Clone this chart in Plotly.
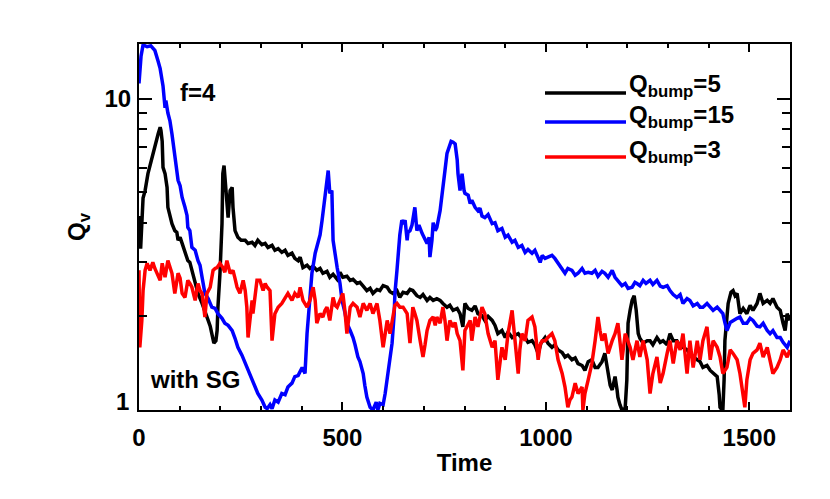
import plotly.graph_objects as go

# ---- data ----
t_black = [0, 4, 10, 15, 22, 27, 32, 39, 47, 52, 54, 57, 59, 64, 69, 71, 76, 81, 88, 93, 96, 101, 106, 113, 120, 125, 130, 138, 145, 155, 162, 170, 175, 179, 184, 189, 192, 194, 199, 204, 206, 209, 211, 216, 219, 224, 229, 231, 236, 243, 251, 261, 268, 278, 285, 292, 302, 310, 317, 327, 334, 342, 351, 359, 366, 376, 383, 391, 396, 403, 413, 420, 428, 437, 445, 452, 462, 469, 477, 487, 494, 501, 511, 519, 526, 536, 543, 551, 560, 568, 575, 585, 592, 600, 610, 617, 624, 634, 641, 649, 659, 666, 673, 683, 691, 698, 708, 715, 723, 732, 740, 747, 757, 764, 772, 782, 789, 796, 801, 809, 818, 826, 833, 843, 850, 858, 868, 875, 882, 892, 900, 907, 917, 924, 932, 941, 949, 956, 966, 973, 981, 988, 998, 1005, 1015, 1022, 1030, 1040, 1047, 1054, 1064, 1072, 1079, 1089, 1096, 1104, 1113, 1121, 1128, 1138, 1145, 1150, 1153, 1158, 1163, 1168, 1170, 1175, 1177, 1182, 1187, 1192, 1195, 1199, 1202, 1207, 1212, 1217, 1222, 1227, 1231, 1239, 1249, 1256, 1263, 1273, 1281, 1288, 1298, 1305, 1313, 1322, 1330, 1337, 1347, 1354, 1362, 1372, 1379, 1386, 1396, 1404, 1411, 1421, 1426, 1428, 1433, 1435, 1438, 1440, 1448, 1455, 1460, 1465, 1470, 1477, 1485, 1494, 1502, 1509, 1519, 1526, 1534, 1544, 1551, 1558, 1568, 1576, 1583, 1588, 1593, 1600]
q_black = [4.2, 3.3, 4.8, 5.07, 5.75, 6.10, 6.47, 7.16, 7.71, 8.10, 7.9, 7.30, 6.02, 5.75, 5.19, 4.48, 4.17, 3.97, 3.77, 3.72, 3.51, 3.59, 3.43, 3.19, 3.02, 2.98, 2.81, 2.61, 2.37, 2.20, 2.09, 1.94, 1.86, 1.76, 1.64, 1.67, 1.80, 2.14, 2.75, 3.97, 5.75, 6.10, 5.66, 4.82, 4.15, 5.07, 5.19, 4.48, 3.77, 3.59, 3.51, 3.51, 3.43, 3.46, 3.38, 3.51, 3.40, 3.43, 3.33, 3.38, 3.26, 3.30, 3.21, 3.26, 3.14, 3.19, 3.07, 3.02, 3.10, 2.87, 2.92, 2.85, 2.90, 2.81, 2.85, 2.75, 2.79, 2.67, 2.73, 2.63, 2.77, 2.67, 2.69, 2.61, 2.63, 2.55, 2.57, 2.50, 2.42, 2.46, 2.37, 2.44, 2.42, 2.51, 2.48, 2.40, 2.37, 2.42, 2.30, 2.39, 2.37, 2.44, 2.42, 2.33, 2.30, 2.35, 2.25, 2.30, 2.25, 2.28, 2.25, 2.20, 2.14, 2.17, 2.09, 2.12, 2.04, 1.85, 2.20, 2.12, 2.09, 2.16, 2.04, 2.01, 1.94, 2.0, 1.94, 1.87, 1.76, 1.80, 1.71, 1.78, 1.71, 1.74, 1.76, 1.70, 1.71, 1.65, 1.67, 1.62, 1.52, 1.64, 1.71, 1.64, 1.59, 1.62, 1.56, 1.53, 1.48, 1.50, 1.45, 1.47, 1.41, 1.39, 1.34, 1.43, 1.45, 1.37, 1.37, 1.43, 1.52, 1.39, 1.31, 1.20, 1.16, 1.25, 1.28, 1.16, 1.10, 1.04, 1.0, 1.0, 1.02, 1.25, 1.90, 2.09, 2.25, 2.33, 2.09, 1.76, 1.70, 1.64, 1.67, 1.67, 1.62, 1.71, 1.65, 1.67, 1.62, 1.76, 1.67, 1.67, 1.60, 1.59, 1.56, 1.52, 1.48, 1.45, 1.43, 1.37, 1.39, 1.34, 1.31, 1.28, 1.12, 1.02, 1.0, 1.0, 1.25, 1.67, 2.20, 2.39, 2.42, 2.33, 2.37, 2.04, 2.12, 2.04, 2.17, 2.09, 2.20, 2.37, 2.20, 2.25, 2.20, 2.28, 2.14, 2.09, 1.90, 1.80, 2.04, 1.94]

t_blue = [0, 5, 10, 20, 29, 39, 47, 52, 57, 59, 64, 66, 71, 76, 81, 88, 96, 101, 106, 113, 118, 120, 125, 130, 138, 145, 150, 155, 162, 170, 179, 187, 194, 204, 211, 219, 229, 236, 243, 253, 261, 268, 278, 285, 292, 302, 310, 315, 322, 327, 334, 342, 351, 359, 366, 376, 383, 391, 401, 408, 413, 420, 425, 433, 440, 445, 450, 457, 462, 465, 469, 474, 477, 482, 487, 494, 499, 506, 511, 519, 526, 531, 538, 543, 551, 555, 560, 568, 575, 583, 587, 592, 600, 605, 612, 617, 622, 627, 629, 634, 637, 641, 646, 651, 654, 659, 661, 666, 671, 678, 683, 688, 696, 701, 708, 713, 715, 720, 723, 728, 732, 740, 747, 752, 757, 762, 767, 772, 777, 782, 784, 789, 791, 794, 799, 801, 809, 814, 818, 826, 833, 838, 843, 850, 858, 868, 875, 882, 892, 900, 907, 917, 924, 932, 941, 949, 956, 966, 973, 981, 986, 991, 998, 1005, 1015, 1022, 1030, 1037, 1047, 1054, 1064, 1072, 1079, 1089, 1096, 1104, 1113, 1121, 1128, 1138, 1145, 1153, 1163, 1170, 1177, 1187, 1195, 1202, 1212, 1219, 1224, 1231, 1239, 1246, 1256, 1263, 1273, 1281, 1288, 1298, 1305, 1313, 1322, 1330, 1337, 1347, 1354, 1362, 1372, 1379, 1386, 1396, 1404, 1411, 1421, 1428, 1435, 1440, 1445, 1453, 1460, 1470, 1477, 1485, 1494, 1502, 1509, 1519, 1526, 1534, 1544, 1551, 1558, 1568, 1576, 1583, 1593, 1600]
q_blue = [11.2, 13.7, 14.9, 14.7, 14.8, 14.3, 13.2, 12.5, 11.4, 11.0, 9.35, 9.87, 9.0, 8.5, 7.71, 6.47, 5.47, 5.26, 4.82, 4.48, 4.22, 3.86, 3.77, 3.33, 3.26, 3.02, 2.92, 2.67, 2.37, 2.28, 2.14, 2.12, 2.04, 1.97, 1.90, 1.87, 1.80, 1.70, 1.59, 1.50, 1.41, 1.34, 1.25, 1.19, 1.13, 1.077, 1.02, 1.01, 1.04, 1.01, 1.077, 1.06, 1.13, 1.12, 1.185, 1.22, 1.28, 1.29, 1.37, 1.31, 1.76, 2.25, 2.75, 3.19, 3.43, 3.65, 4.07, 4.82, 5.26, 5.88, 4.97, 5.07, 3.51, 3.14, 2.87, 2.55, 2.25, 2.06, 1.90, 1.80, 1.71, 1.62, 1.48, 1.43, 1.31, 1.20, 1.10, 1.02, 1.00, 1.06, 1.00, 1.05, 1.04, 1.13, 1.34, 1.50, 1.64, 2.02, 2.37, 2.81, 3.19, 3.65, 4.07, 4.0, 4.07, 3.51, 3.72, 3.77, 3.93, 4.48, 3.77, 3.93, 3.69, 3.56, 3.43, 3.59, 3.10, 3.51, 4.0, 3.77, 3.86, 4.37, 5.07, 5.88, 6.68, 7.06, 7.30, 7.25, 7.16, 6.37, 5.75, 5.07, 5.40, 5.75, 5.07, 4.97, 4.9, 4.61, 4.72, 4.48, 4.37, 4.45, 4.2, 4.15, 4.25, 3.97, 4.0, 3.77, 3.83, 3.59, 3.65, 3.46, 3.51, 3.33, 3.38, 3.21, 3.28, 3.19, 3.26, 3.10, 2.98, 3.14, 3.07, 3.10, 3.14, 3.07, 2.96, 2.85, 2.75, 2.85, 2.81, 2.71, 2.75, 2.85, 2.75, 2.77, 2.75, 2.81, 2.69, 2.79, 2.75, 2.67, 2.81, 2.67, 2.61, 2.51, 2.55, 2.46, 2.48, 2.57, 2.55, 2.51, 2.61, 2.55, 2.61, 2.53, 2.61, 2.50, 2.48, 2.51, 2.42, 2.35, 2.30, 2.35, 2.20, 2.28, 2.25, 2.16, 2.20, 2.14, 2.14, 2.20, 2.14, 2.09, 2.14, 2.09, 2.04, 1.91, 1.80, 1.91, 1.94, 1.97, 1.99, 1.90, 1.90, 1.97, 1.94, 1.86, 1.85, 1.90, 1.80, 1.76, 1.80, 1.71, 1.71, 1.65, 1.59, 1.67]

t_red = [0, 2, 7, 10, 15, 20, 27, 34, 39, 44, 52, 57, 64, 71, 76, 81, 88, 96, 101, 106, 113, 120, 125, 130, 138, 145, 150, 155, 162, 167, 175, 182, 187, 192, 199, 206, 211, 216, 224, 231, 236, 241, 248, 256, 261, 265, 268, 273, 278, 280, 285, 290, 297, 305, 310, 315, 322, 327, 334, 342, 351, 359, 366, 376, 383, 391, 396, 403, 413, 420, 428, 433, 437, 445, 452, 457, 462, 469, 477, 482, 487, 494, 501, 506, 511, 519, 526, 536, 543, 551, 560, 568, 575, 585, 592, 600, 605, 610, 617, 624, 629, 634, 641, 649, 654, 659, 666, 673, 678, 683, 691, 698, 703, 708, 715, 723, 728, 732, 740, 747, 752, 757, 764, 772, 777, 782, 789, 796, 801, 806, 814, 818, 826, 833, 843, 850, 858, 868, 875, 882, 887, 892, 900, 907, 917, 924, 932, 936, 941, 949, 956, 966, 973, 981, 986, 991, 998, 1005, 1015, 1022, 1030, 1040, 1047, 1054, 1059, 1064, 1072, 1079, 1089, 1091, 1096, 1104, 1113, 1121, 1128, 1133, 1138, 1145, 1153, 1163, 1170, 1177, 1182, 1187, 1195, 1202, 1207, 1214, 1224, 1231, 1239, 1249, 1256, 1263, 1273, 1281, 1288, 1298, 1305, 1313, 1322, 1330, 1337, 1347, 1354, 1362, 1372, 1379, 1386, 1396, 1404, 1411, 1421, 1428, 1435, 1445, 1453, 1460, 1470, 1477, 1485, 1489, 1494, 1502, 1509, 1519, 1526, 1534, 1544, 1551, 1558, 1568, 1576, 1583, 1593, 1600]
q_red = [2.81, 1.59, 1.94, 2.42, 2.81, 2.96, 2.81, 2.98, 2.85, 2.75, 2.61, 2.96, 2.67, 3.02, 2.85, 2.75, 2.37, 2.75, 2.65, 2.37, 2.30, 2.61, 2.55, 2.48, 2.25, 2.55, 2.42, 2.37, 1.99, 2.37, 2.48, 2.81, 2.85, 2.87, 2.96, 2.87, 2.77, 3.02, 2.75, 2.81, 2.65, 2.48, 2.37, 2.61, 2.42, 2.14, 1.71, 2.01, 2.25, 2.04, 2.33, 2.61, 2.61, 2.42, 2.55, 2.48, 2.42, 1.67, 2.04, 2.14, 2.20, 2.30, 2.37, 2.25, 2.37, 2.30, 2.48, 2.25, 2.14, 2.25, 2.48, 2.25, 1.90, 2.04, 1.99, 2.09, 2.14, 1.94, 2.30, 2.17, 2.14, 2.25, 2.37, 2.09, 1.76, 2.14, 2.20, 2.14, 1.99, 2.20, 2.09, 2.20, 2.04, 2.20, 1.94, 1.59, 1.80, 1.94, 1.76, 2.04, 2.17, 2.20, 2.14, 2.14, 2.09, 2.04, 1.64, 2.14, 2.04, 1.94, 1.67, 1.48, 1.62, 1.80, 1.94, 1.99, 1.87, 1.99, 1.90, 2.14, 1.94, 1.67, 1.94, 1.85, 1.91, 1.76, 1.67, 1.34, 1.80, 1.85, 1.94, 1.67, 1.99, 1.85, 2.14, 2.04, 1.76, 1.59, 1.67, 1.25, 1.45, 1.59, 1.45, 1.76, 2.09, 1.67, 1.31, 1.56, 1.76, 1.67, 1.94, 1.99, 1.85, 1.45, 1.62, 1.67, 1.67, 1.71, 1.76, 1.67, 1.45, 1.31, 1.185, 1.02, 1.077, 1.10, 1.22, 1.13, 1.185, 1.0, 1.13, 1.25, 1.41, 1.67, 1.99, 1.80, 1.67, 1.76, 1.52, 1.67, 1.76, 1.90, 1.67, 1.45, 1.76, 1.67, 1.59, 1.45, 1.67, 1.48, 1.67, 1.45, 1.13, 1.31, 1.48, 1.22, 1.31, 1.52, 1.67, 1.41, 1.67, 1.56, 1.76, 1.31, 1.67, 1.37, 1.67, 1.45, 1.67, 1.85, 1.45, 1.67, 1.59, 1.48, 1.31, 1.37, 1.56, 1.52, 1.45, 1.31, 1.13, 1.02, 1.25, 1.45, 1.52, 1.56, 1.64, 1.48, 1.59, 1.45, 1.31, 1.37, 1.45, 1.56, 1.48, 1.56]

series_names = ["Q<sub>bump</sub>=5", "Q<sub>bump</sub>=15", "Q<sub>bump</sub>=3"]
series_colors = ["#000000", "#0000ff", "#ff0000"]
x_tick_vals = [0, 500, 1000, 1500]
y_tick_vals = [1, 10]
y_tick_text = ["1", "10"]
y_minor_vals = [2, 3, 4, 5, 6, 7, 8, 9]

FONT = "Liberation Sans, Arial, Helvetica, sans-serif"

fig = go.Figure()
for tt, qq, name, col in zip([t_black, t_blue, t_red], [q_black, q_blue, q_red],
                             series_names, series_colors):
    fig.add_trace(go.Scatter(x=tt, y=qq, mode="lines", name=name,
                             line=dict(color=col, width=3.5), showlegend=False))

# page body has an 8px margin: figure is drawn from (8, 8) in the window
OFF = 8
W, H = 822, 491
L0, R0, B0, T0 = 139, 790, 410, 44   # target plot-area edges in window pixels
pw, ph = R0 - L0, B0 - T0
def px(x):
    return (x - L0) / pw
def py(y):
    return (B0 - y) / ph

leg_line_y = [93, 122, 157]
leg_text_y = [85, 116, 151]
for name, col, ly, ty in zip(series_names, series_colors, leg_line_y, leg_text_y):
    fig.add_shape(type="line", xref="paper", yref="paper",
                  x0=px(545), x1=px(626), y0=py(ly), y1=py(ly),
                  line=dict(color=col, width=3.5))
    fig.add_annotation(xref="paper", yref="paper", x=px(627), y=py(ty),
                       text=name, showarrow=False, xanchor="left", yanchor="middle",
                       font=dict(family=FONT, size=24, color="black", weight="bold"))

fig.add_annotation(xref="paper", yref="paper", x=px(198), y=py(92), text="f=4",
                   showarrow=False, xanchor="center", yanchor="middle",
                   font=dict(family=FONT, size=24, color="black", weight="bold"))
fig.add_annotation(xref="paper", yref="paper", x=px(195), y=py(379), text="with SG",
                   showarrow=False, xanchor="center", yanchor="middle",
                   font=dict(family=FONT, size=24, color="black", weight="bold"))

# the lowest y tick label sits a little above its tick, as in the reference
fig.add_annotation(xref="paper", yref="y", x=px(131), y=0, yshift=9,
                   text=y_tick_text[0], showarrow=False, xanchor="right",
                   yanchor="middle",
                   font=dict(family=FONT, size=24, color="black", weight="bold"))

fig.update_layout(
    width=W, height=H,
    margin=dict(l=L0 - OFF, r=W + OFF - R0, t=T0 - OFF, b=H + OFF - B0),
    paper_bgcolor="white", plot_bgcolor="white",
    font=dict(family=FONT, size=24, color="black", weight="bold"),
    xaxis=dict(range=[0, 1600], tickvals=x_tick_vals, ticks="inside", ticklen=8,
               tickwidth=2, tickcolor="black", showline=True, linewidth=2,
               linecolor="black", mirror="ticks", showgrid=False, zeroline=False,
               ticklabelstandoff=5, automargin=False,
               minor=dict(dtick=100, ticks="inside", ticklen=4, tickwidth=2,
                          tickcolor="black", showgrid=False),
               tickfont=dict(family=FONT, size=24, weight="bold"),
               title=dict(text="Time", standoff=4,
                          font=dict(family=FONT, size=24, weight="bold"))),
    yaxis=dict(type="log", range=[0, 1.1761], tickvals=y_tick_vals,
               ticktext=["", y_tick_text[1]], ticks="inside", ticklen=13, tickwidth=2,
               tickcolor="black", showline=True, linewidth=2, linecolor="black",
               mirror="ticks", showgrid=False, zeroline=False, ticklabelstandoff=1,
               automargin=False,
               minor=dict(tickvals=y_minor_vals, ticks="inside", ticklen=8,
                          tickwidth=2, tickcolor="black", showgrid=False),
               tickfont=dict(family=FONT, size=24, weight="bold"),
               title=dict(text="Q<sub>v</sub>", standoff=12,
                          font=dict(family=FONT, size=24, weight="bold"))),
)

fig.write_html("out.html")
